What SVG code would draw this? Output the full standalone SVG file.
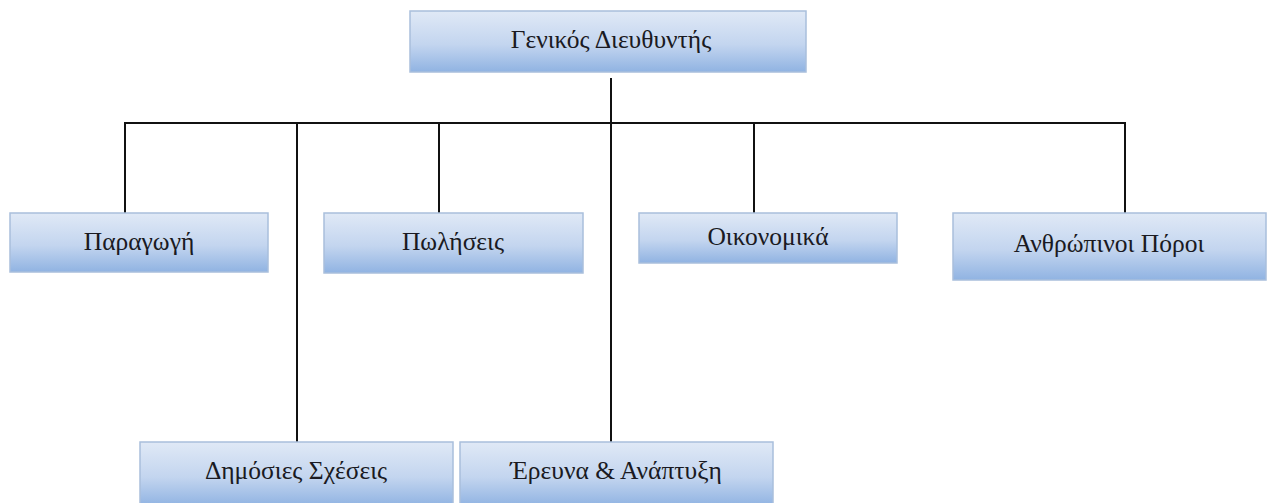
<svg xmlns="http://www.w3.org/2000/svg" width="1268" height="503" viewBox="0 0 1268 503">
  <defs>
    <linearGradient id="boxFill" x1="0" y1="0" x2="0" y2="1">
      <stop offset="0" stop-color="#e0e9f6"/>
      <stop offset="0.55" stop-color="#c3d5ef"/>
      <stop offset="1" stop-color="#90b3e2"/>
    </linearGradient>
    <style>
      .box { fill: url(#boxFill); stroke: #a9bfdc; stroke-width: 1.5; }
      .label { font-family: "Liberation Serif", "DejaVu Serif", serif; font-size: 25.5px; fill: #1a1a22; text-anchor: middle; }
      .wire { stroke: #111; stroke-width: 2; fill: none; }
    </style>
  </defs>

  <!-- connectors -->
  <g id="connectors">
    <line class="wire" x1="611" y1="78" x2="611" y2="442"/>
    <line class="wire" x1="124" y1="123" x2="1125" y2="123"/>
    <line class="wire" x1="125" y1="122" x2="125" y2="213"/>
    <line class="wire" x1="297" y1="122" x2="297" y2="442"/>
    <line class="wire" x1="439" y1="122" x2="439" y2="213"/>
    <line class="wire" x1="754" y1="122" x2="754" y2="213"/>
    <line class="wire" x1="1125" y1="122" x2="1125" y2="213"/>
  </g>

  <g id="ceo">
    <rect class="box" x="410" y="11" width="396" height="61"/>
    <text class="label" x="611" y="48">Γενικός Διευθυντής</text>
  </g>
  <g id="production">
    <rect class="box" x="10" y="213" width="258" height="59"/>
    <text class="label" x="139" y="250">Παραγωγή</text>
  </g>
  <g id="sales">
    <rect class="box" x="324" y="213" width="259" height="60"/>
    <text class="label" x="453" y="250">Πωλήσεις</text>
  </g>
  <g id="finance">
    <rect class="box" x="639" y="213" width="258" height="50"/>
    <text class="label" x="768" y="245">Οικονομικά</text>
  </g>
  <g id="hr">
    <rect class="box" x="953" y="213" width="313" height="67"/>
    <text class="label" x="1109" y="252">Ανθρώπινοι Πόροι</text>
  </g>
  <g id="public-relations">
    <rect class="box" x="140" y="442" width="313" height="64"/>
    <text class="label" x="296" y="479">Δημόσιες Σχέσεις</text>
  </g>
  <g id="research">
    <rect class="box" x="460" y="442" width="313" height="64"/>
    <text class="label" x="616" y="479">Έρευνα &amp; Ανάπτυξη</text>
  </g>
</svg>
